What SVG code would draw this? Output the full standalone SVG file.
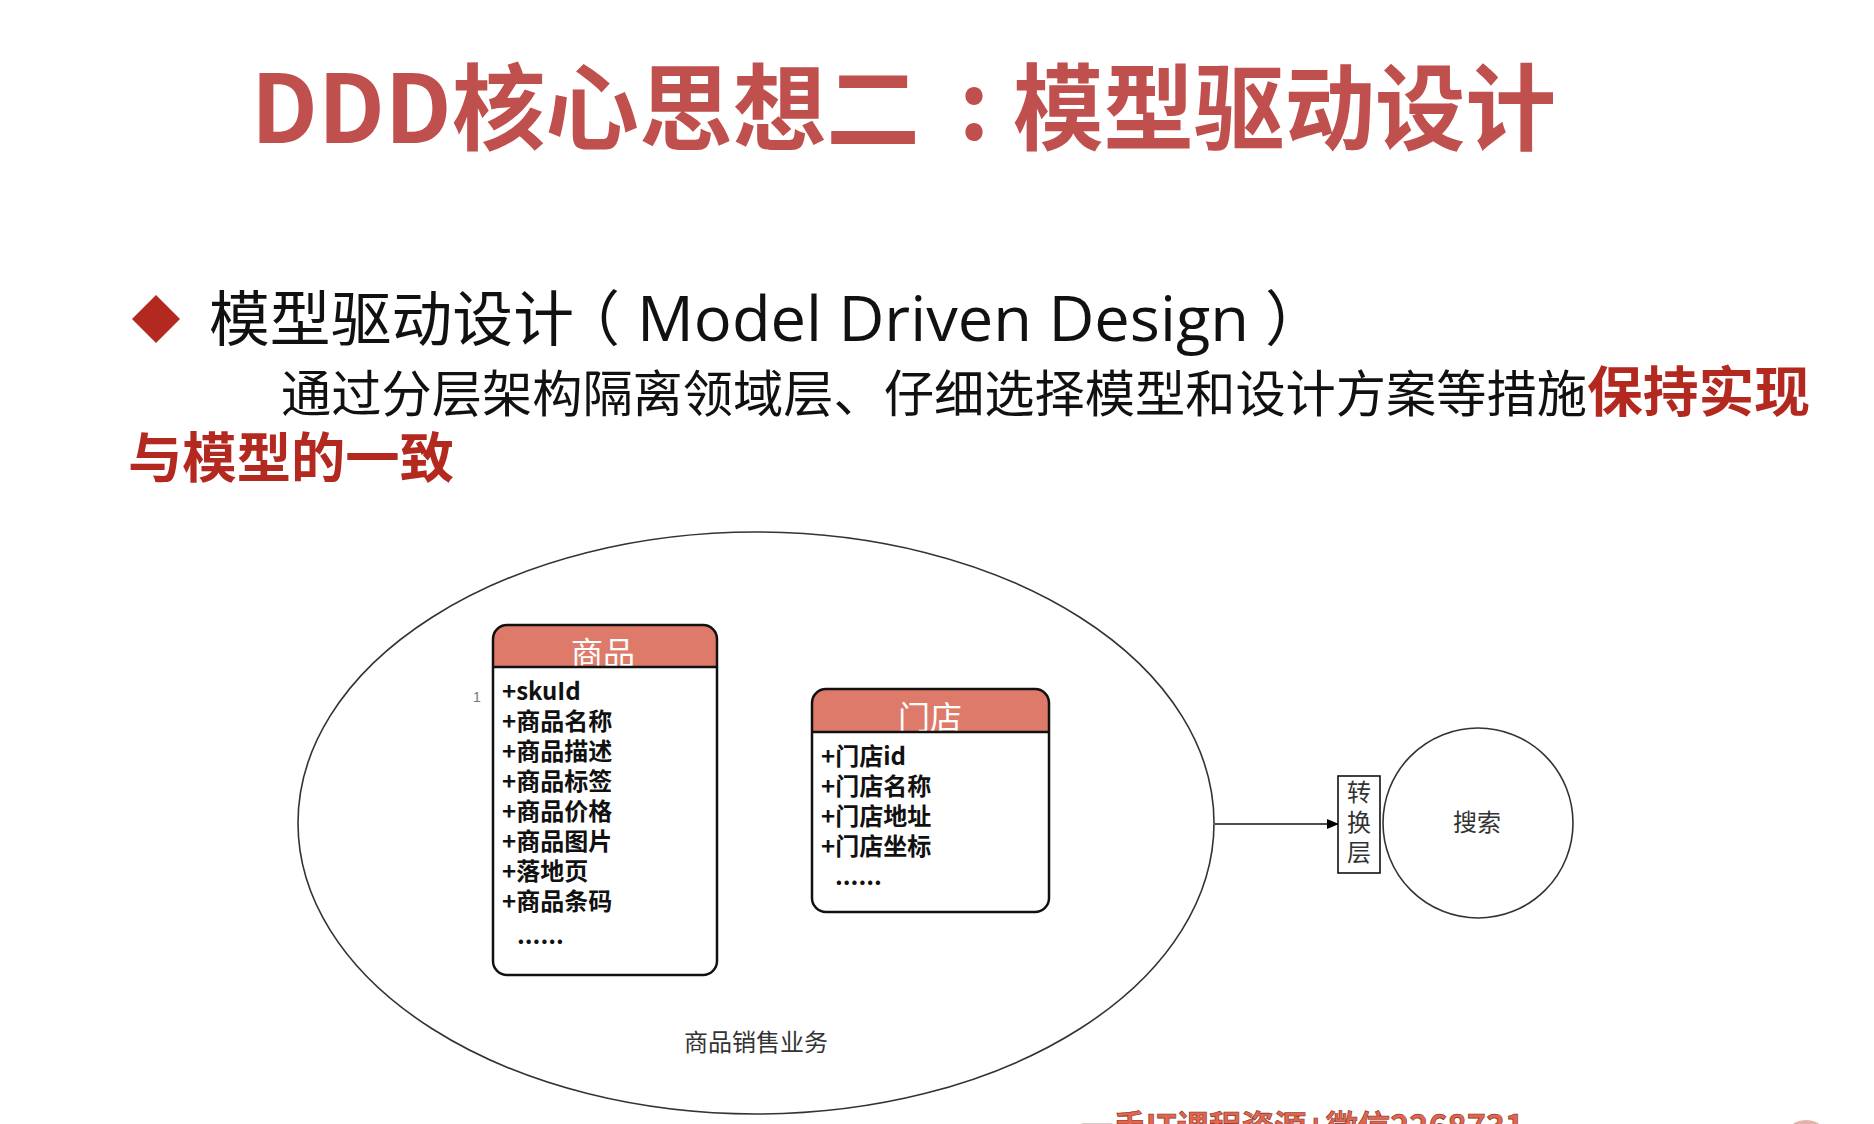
<svg xmlns="http://www.w3.org/2000/svg" width="1874" height="1124" viewBox="0 0 1874 1124">
  <defs>
    <marker id="arrow" markerWidth="12" markerHeight="10" refX="11" refY="5" orient="auto" markerUnits="userSpaceOnUse">
      <path d="M0,0 L12,5 L0,10 Z" fill="#000"/>
    </marker>
    <clipPath id="clipGoods"><rect x="493" y="625" width="224" height="350" rx="14"/></clipPath>
    <clipPath id="clipStore"><rect x="812" y="689" width="237" height="223" rx="14"/></clipPath>
  </defs>
  <style>
    .title { font-family: "Noto Sans CJK SC", "Noto Sans", sans-serif; font-weight: 700; font-size: 94px; fill: #C0504D; }
    .bullet { font-family: "Noto Sans CJK SC", sans-serif; font-weight: 400; font-size: 60px; fill: #111; }
    .latin { font-family: "Open Sans", "Noto Sans", sans-serif; font-weight: 400; font-size: 62px; fill: #111; }
    .body { font-family: "Noto Sans CJK SC", sans-serif; font-weight: 400; font-size: 50px; fill: #111; }
    .emph { font-family: "Noto Sans CJK SC", sans-serif; font-weight: 700; font-size: 54px; fill: #B3291F; }
    .head { font-family: "Noto Sans CJK SC", sans-serif; font-weight: 400; font-size: 32px; fill: #fff; text-anchor: middle; }
    .attr { font-family: "Noto Sans CJK SC", sans-serif; font-weight: 700; font-size: 24px; fill: #111; }
    .label { font-family: "Noto Sans CJK SC", sans-serif; font-weight: 400; font-size: 24px; fill: #333; text-anchor: middle; }
    .hdr { fill: #DE7A69; }
    .thin { fill: #fff; stroke: #333; stroke-width: 1.6; }
  </style>

  <rect width="1874" height="1124" fill="#fff"/>

  <!-- heading -->
  <text class="title" x="251" y="143" textLength="669" lengthAdjust="spacingAndGlyphs">DDD核心思想二</text>
  <text class="title" x="974" y="140" text-anchor="middle">:</text>
  <text class="title" x="1013" y="143" textLength="543" lengthAdjust="spacingAndGlyphs">模型驱动设计</text>

  <!-- bullet point -->
  <path d="M156,295 L180,319 L156,343 L132,319 Z" fill="#B3291F"/>
  <text class="bullet" x="209" y="341" textLength="365" lengthAdjust="spacingAndGlyphs">模型驱动设计</text>
  <text class="bullet" x="560" y="341">（</text>
  <text class="latin" x="637" y="341" textLength="612" lengthAdjust="spacingAndGlyphs">Model Driven Design</text>
  <text class="bullet" x="1265" y="341">）</text>

  <text class="body" x="281" y="412" textLength="1306" lengthAdjust="spacingAndGlyphs">通过分层架构隔离领域层、仔细选择模型和设计方案等措施</text>
  <text class="emph" x="1587" y="412" textLength="223" lengthAdjust="spacingAndGlyphs">保持实现</text>
  <text class="emph" x="128" y="478" textLength="326" lengthAdjust="spacingAndGlyphs">与模型的一致</text>

  <!-- bounded context -->
  <g id="context">
    <ellipse class="thin" cx="756" cy="823" rx="458" ry="291"/>
    <text class="label" x="756" y="1051">商品销售业务</text>
  </g>

  <!-- goods entity -->
  <g id="goods">
    <rect x="493" y="625" width="224" height="350" rx="14" fill="#fff"/>
    <rect x="493" y="625" width="224" height="42" class="hdr" clip-path="url(#clipGoods)"/>
    <text class="head" x="603" y="665">商品</text>
    <line x1="493" y1="667" x2="717" y2="667" stroke="#111" stroke-width="2.5"/>
    <rect x="493" y="625" width="224" height="350" rx="14" fill="none" stroke="#111" stroke-width="2.5"/>
    <text x="473" y="702" font-family="Liberation Sans, sans-serif" font-size="14" fill="#777">1</text>
    <text class="attr" x="502" y="700">+skuId</text>
    <text class="attr" x="502" y="730">+商品名称</text>
    <text class="attr" x="502" y="760">+商品描述</text>
    <text class="attr" x="502" y="790">+商品标签</text>
    <text class="attr" x="502" y="820">+商品价格</text>
    <text class="attr" x="502" y="850">+商品图片</text>
    <text class="attr" x="502" y="880">+落地页</text>
    <text class="attr" x="502" y="910">+商品条码</text>
    <text class="attr" x="517" y="944">......</text>
  </g>

  <!-- store entity -->
  <g id="store">
    <rect x="812" y="689" width="237" height="223" rx="14" fill="#fff"/>
    <rect x="812" y="689" width="237" height="43" class="hdr" clip-path="url(#clipStore)"/>
    <text class="head" x="930" y="729">门店</text>
    <line x1="812" y1="732" x2="1049" y2="732" stroke="#111" stroke-width="2.5"/>
    <rect x="812" y="689" width="237" height="223" rx="14" fill="none" stroke="#111" stroke-width="2.5"/>
    <text class="attr" x="821" y="765">+门店id</text>
    <text class="attr" x="821" y="795">+门店名称</text>
    <text class="attr" x="821" y="825">+门店地址</text>
    <text class="attr" x="821" y="855">+门店坐标</text>
    <text class="attr" x="835" y="885">......</text>
  </g>

  <!-- connectors -->
  <g id="connectors">
    <line x1="1215" y1="824" x2="1338" y2="824" stroke="#111" stroke-width="1.6" marker-end="url(#arrow)"/>
  </g>

  <!-- translation layer -->
  <g id="translator">
    <rect x="1338" y="776" width="42" height="97" fill="#fff" stroke="#111" stroke-width="1.6"/>
    <text class="label" x="1359" y="801">转</text>
    <text class="label" x="1359" y="831">换</text>
    <text class="label" x="1359" y="861">层</text>
  </g>

  <!-- search context -->
  <g id="search">
    <circle class="thin" cx="1478" cy="823" r="95"/>
    <text class="label" x="1477" y="831">搜索</text>
  </g>

  <!-- footer mark -->
  <text x="1081" y="1139" font-family="Noto Sans CJK SC, sans-serif" font-weight="700" font-size="33" fill="#E2664E" stroke="#7a2a20" stroke-width="0.6" textLength="443" lengthAdjust="spacingAndGlyphs">一手IT课程资源+微信2268731</text>
  <circle cx="1806" cy="1144" r="24" fill="#E3B3AA"/>
</svg>
